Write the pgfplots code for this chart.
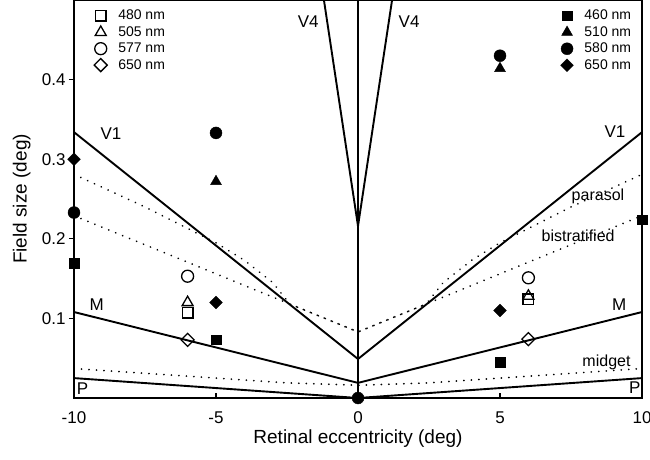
\documentclass[border=0pt]{standalone}
\usepackage{pgfplots}
\pgfplotsset{compat=1.18}
\usepackage{fontspec}
\setmainfont{Liberation Sans}
\begin{document}
\begin{tikzpicture}
\pgfplotsset{
  base/.style={
    width=568pt, height=398pt, scale only axis,
    xmin=-10, xmax=10, ymin=0, ymax=0.5,
    clip=false,
  },
  omark/.style={black, only marks, line width=1.3pt, mark options={solid, fill=white}},
  fmark/.style={black, only marks, mark options={solid, fill=black}},
  solidline/.style={black, line width=1.9pt, no marks, forget plot},
  dotline/.style={black, line width=1.9pt, dash pattern=on 0.01pt off 7.5pt, line cap=round, no marks, forget plot},
  legstyle/.style={draw=none, fill=none,
    font=\fontsize{14}{16}\selectfont, row sep=1.2pt,
    /tikz/every odd column/.append style={column sep=9pt}},
}
\begin{axis}[base,
  axis line style={line width=1.5pt},
  xtick={-10,-5,0,5,10}, ytick={0.1,0.2,0.3,0.4},
  tick pos=left,
  xtick align=inside, ytick align=outside,
  major tick length=5pt,
  tick style={line width=1.2pt, black},
  /pgf/number format/assume math mode=true,
  tick label style={font=\fontsize{17}{20}\selectfont},
  yticklabel style={/pgf/number format/.cd, fixed, fixed zerofill, precision=1},
  xticklabel style={yshift=-10pt},
  xlabel={Retinal eccentricity (deg)}, ylabel={Field size (deg)},
  label style={font=\fontsize{19}{22}\selectfont},
  xlabel style={at={(axis description cs:0.5,-0.102)}, anchor=center},
  ylabel style={at={(axis description cs:-0.092,0.5)}, anchor=center},
  legend style={legstyle, at={(0.03,0.985)}, anchor=north west},
  legend cell align=left,
]
\coordinate (ll) at (rel axis cs:0,0);
\coordinate (ur) at (rel axis cs:1,1);
% reference lines
\addplot[solidline] coordinates {(-10,0.334)(0,0.049)(10,0.334)};
\addplot[solidline] coordinates {(-10,0.108)(0,0.019)(10,0.108)};
\addplot[solidline] coordinates {(-10,0.025)(0,0.0)(10,0.025)};
\addplot[solidline] coordinates {(-1.2,0.5)(0,0.216)(1.2,0.5)};
\addplot[black, line width=1.3pt, no marks, forget plot] coordinates {(0,0)(0,0.5)};
\addplot[dotline] coordinates {(-10,0.281)(-7.5,0.240)(-5,0.195)(-4,0.173)(-3,0.145)(-2.4,0.118)(0,0.083)(2.4,0.118)(3,0.145)(4,0.173)(5,0.195)(7.5,0.240)(10,0.281)};
\addplot[dotline] coordinates {(-10,0.229)(0,0.083)(10,0.229)};
\addplot[dotline] coordinates {(-10,0.037)(-7.5,0.031)(-5,0.025)(-2.5,0.019)(0,0.016)(2.5,0.019)(5,0.025)(7.5,0.031)(10,0.037)};
% open markers
\addplot[omark, mark=square, mark size=5.3pt] coordinates {(-6,0.107)(6,0.124)};
\addlegendentry{480 nm}
\addplot[omark, mark=triangle, mark size=6.3pt] coordinates {(-6,0.120)(6,0.128)};
\addlegendentry{505 nm}
\addplot[omark, mark=o, mark size=6pt] coordinates {(-6,0.153)(6,0.151)};
\addlegendentry{577 nm}
\addplot[omark, mark=square, mark size=4.6pt, mark options={rotate=45}] coordinates {(-6,0.073)(6,0.074)};
\addlegendentry{650 nm}
% text labels
\node[font=\fontsize{17}{20}\selectfont] at (axis cs:-1.75,0.473) {V4};
\node[font=\fontsize{17}{20}\selectfont] at (axis cs:1.8,0.473) {V4};
\node[font=\fontsize{17}{20}\selectfont] at (axis cs:-8.7,0.332) {V1};
\node[font=\fontsize{17}{20}\selectfont] at (axis cs:9.05,0.335) {V1};
\node[font=\fontsize{16}{19}\selectfont] at (axis cs:8.45,0.253) {parasol};
\node[font=\fontsize{16}{19}\selectfont] at (axis cs:7.75,0.204) {bistratified};
\node[font=\fontsize{17}{20}\selectfont] at (axis cs:-9.2,0.117) {M};
\node[font=\fontsize{17}{20}\selectfont] at (axis cs:9.2,0.117) {M};
\node[font=\fontsize{16}{19}\selectfont] at (axis cs:8.75,0.045) {midget};
\node[font=\fontsize{17}{20}\selectfont] at (axis cs:-9.7,0.012) {P};
\node[font=\fontsize{17}{20}\selectfont] at (axis cs:9.75,0.013) {P};
\end{axis}
\begin{axis}[base, hide axis,
  legend style={legstyle, at={(0.99,0.985)}, anchor=north east},
  legend cell align=left,
]
\addplot[fmark, mark=square*, mark size=4.8pt] coordinates {(-10,0.169)(-5,0.073)(5,0.045)(10,0.224)};
\addlegendentry{460 nm}
\addplot[fmark, mark=triangle*, mark size=6.3pt] coordinates {(-5,0.272)(5,0.414)};
\addlegendentry{510 nm}
\addplot[fmark, mark=*, mark size=6pt] coordinates {(-10,0.233)(-5,0.333)(5,0.430)(0,0.0)};
\addlegendentry{580 nm}
\addplot[fmark, mark=square*, mark size=4.5pt, mark options={rotate=45}] coordinates {(-10,0.300)(-5,0.120)(5,0.110)};
\addlegendentry{650 nm}
\end{axis}
\pgfresetboundingbox
\path (ll) ++(-74pt,-62pt) rectangle ([shift={(8pt,0pt)}]ur);
\end{tikzpicture}
\end{document}
